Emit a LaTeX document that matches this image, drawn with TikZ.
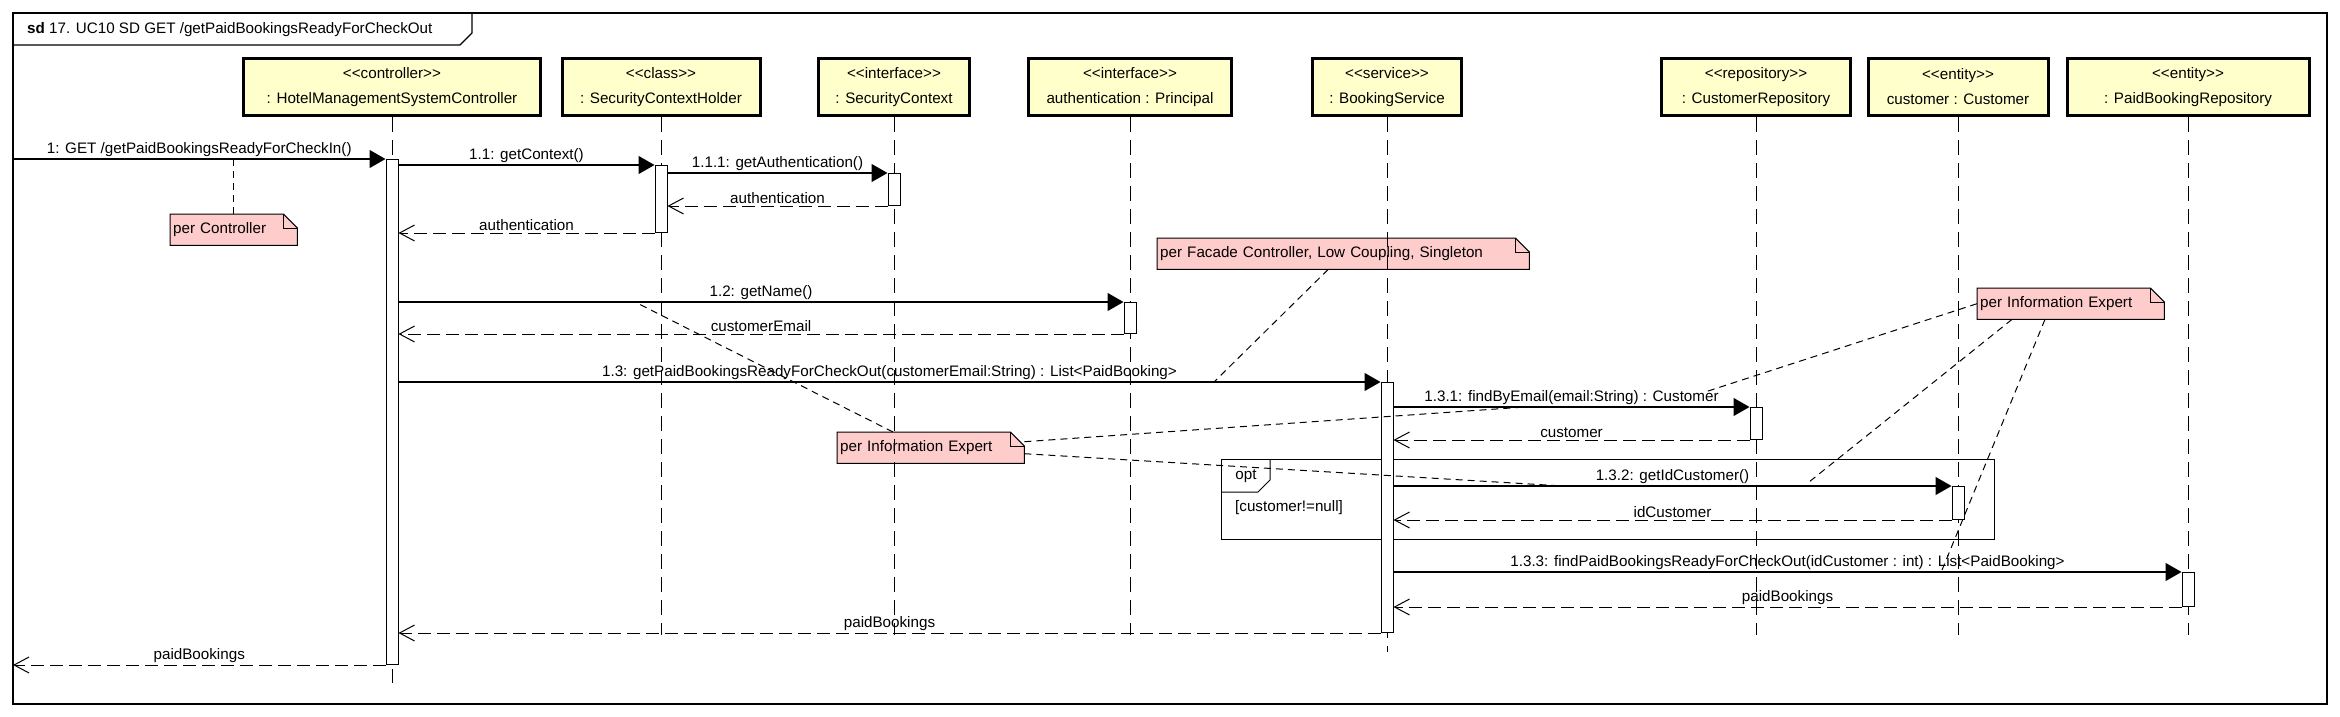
\documentclass[tikz,border=0pt]{standalone}
\usepackage{fontspec}
\setmainfont{Liberation Sans}
\usetikzlibrary{arrows.meta,backgrounds}
\definecolor{headfill}{RGB}{255,255,204}
\definecolor{notefill}{RGB}{255,204,204}
\newcommand{\stereo}[1]{<\kern0pt<#1>\kern0pt>}

\begin{document}
\begin{tikzpicture}[x=1pt,y=-1pt,
  every node/.style={font=\fontsize{15.2}{20}\selectfont},
  head/.style={draw,line width=3pt,fill=headfill,minimum height=57pt,align=center,inner sep=0pt,font=\fontsize{15.2}{25}\selectfont},
  bar/.style={draw,fill=white,anchor=north,minimum width=12pt,inner sep=0pt,line width=1pt},
  lifeline/.style={line width=1pt,dash pattern=on 15pt off 8pt},
  msg/.style={line width=1.2pt,-{Triangle[length=16pt,width=18pt]}},
  ret/.style={line width=1pt,dash pattern=on 13pt off 6pt,-{Straight Barb[length=15pt,width=16pt]}},
  lbl/.style={above,inner sep=2pt},
  note/.style={anchor=north west,minimum height=31pt,inner xsep=3pt,inner ysep=0pt,align=left},
  link/.style={line width=1pt,dash pattern=on 7pt off 5pt}]
\useasboundingbox (0,0) rectangle (2340,717);

\draw[line width=1.3pt] (13,13) rectangle (2327,704);
\draw[line width=1.3pt] (13,45) -- (460,45) -- (472,33) -- (472,13);
\node[anchor=west,inner sep=0pt] (title) at (27,30) {\textbf{sd} 17. UC10 SD GET /getPaidBookingsReadyForCheckOut};

\node[head,minimum width=297pt] (hmsc) at (392,87) {\stereo{controller}\\: HotelManagementSystemController};
\node[head,minimum width=198pt] (sch) at (661,87) {\stereo{class}\\: SecurityContextHolder};
\node[head,minimum width=151pt] (sc) at (894,87) {\stereo{interface}\\: SecurityContext};
\node[head,minimum width=203pt] (auth) at (1130,87) {\stereo{interface}\\authentication : Principal};
\node[head,minimum width=149pt] (bs) at (1387,87) {\stereo{service}\\: BookingService};
\node[head,minimum width=189pt] (crep) at (1756,87) {\stereo{repository}\\: CustomerRepository};
\node[head,minimum width=180pt] (cust) at (1958,87) {\stereo{entity}\\customer : Customer};
\node[head,minimum width=242pt] (pbrep) at (2188,87) {\stereo{entity}\\: PaidBookingRepository};

\draw[lifeline] (hmsc.south) -- (hmsc.south |- 0,683);
\draw[lifeline] (bs.south) -- (bs.south |- 0,652);
\foreach \h in {sch,sc,auth,crep,cust,pbrep}
  \draw[lifeline] (\h.south) -- (\h.south |- 0,635);

\node[note,text width=121pt] (nCtrl) at (170,214) {per Controller};
\node[note,text width=366pt] (nFacade) at (1157,238) {per Facade Controller, Low Coupling, Singleton};
\node[note,text width=181pt] (nInfoA) at (837,432) {per Information Expert};
\node[note,text width=181pt] (nInfoB) at (1977,288) {per Information Expert};
\begin{scope}[on background layer]
\foreach \n in {nCtrl,nFacade,nInfoA,nInfoB} {
  \filldraw[fill=notefill,line width=1pt] (\n.south west) -- (\n.north west) -- ([xshift=-14pt]\n.north east) -- ([yshift=-14pt]\n.north east) -- (\n.south east) -- cycle;
  \draw[line width=1pt] ([xshift=-14pt]\n.north east) |- ([yshift=-14pt]\n.north east);
}
\end{scope}

\node[draw,line width=1pt,anchor=north west,minimum width=773pt,minimum height=80pt,inner sep=0pt] (optBox) at (1221,459) {};
\draw[line width=1pt] ([yshift=-33pt]optBox.north west) -- ++(37pt,0) -- ++(12pt,12pt) -- ([xshift=49pt]optBox.north west);
\node (optTag) at (1246,476) {opt};
\node[anchor=west,inner sep=0pt] (optGuard) at (1235,508) {[customer!=null]};

\node[bar,minimum height=505pt] (aHmsc) at (hmsc.south |- 0,159) {};
\node[bar,minimum height=67pt] (aSch) at (sch.south |- 0,165) {};
\node[bar,minimum height=32pt] (aSc) at (sc.south |- 0,173) {};
\node[bar,minimum height=31pt] (aAuth) at (auth.south |- 0,302) {};
\node[bar,minimum height=250pt] (aBs) at (bs.south |- 0,382) {};
\node[bar,minimum height=32pt] (aCrep) at (crep.south |- 0,407) {};
\node[bar,minimum height=33pt] (aCust) at (cust.south |- 0,486) {};
\node[bar,minimum height=34pt] (aPbrep) at (pbrep.south |- 0,572) {};

\coordinate (gate) at (13,159);
\draw[line width=2.5pt] (gate) -- (gate |- 0,690);
\draw[msg] (gate) -- node[lbl] (l1) {1: GET /getPaidBookingsReadyForCheckIn()} (gate -| aHmsc.west);
\draw[msg] (aHmsc.east |- aSch.north) -- node[lbl] (l11) {1.1: getContext()} (aSch.north west);
\draw[msg] (aSch.east |- aSc.north) -- node[lbl] (l111) {1.1.1: getAuthentication()} (aSc.north west);
\draw[ret] (aSc.south west) -- node[lbl] (r111) {authentication} (aSc.south west -| aSch.east);
\draw[ret] (aSch.south west) -- node[lbl] (r11) {authentication} (aSch.south west -| aHmsc.east);
\draw[msg] (aHmsc.east |- aAuth.north) -- node[lbl] (l12) {1.2: getName()} (aAuth.north west);
\draw[ret] (aAuth.south west) -- node[lbl] (r12) {customerEmail} (aAuth.south west -| aHmsc.east);
\draw[msg] (aHmsc.east |- aBs.north) -- node[lbl] (l13) {1.3: getPaidBookingsReadyForCheckOut(customerEmail:String) : List<PaidBooking>} (aBs.north west);
\draw[msg] (aBs.east |- aCrep.north) -- node[lbl] (l131) {1.3.1: findByEmail(email:String) : Customer} (aCrep.north west);
\draw[ret] (aCrep.south west) -- node[lbl] (r131) {customer} (aCrep.south west -| aBs.east);
\draw[msg] (aBs.east |- aCust.north) -- node[lbl] (l132) {1.3.2: getIdCustomer()} (aCust.north west);
\draw[ret] (aCust.south west) -- node[lbl] (r132) {idCustomer} (aCust.south west -| aBs.east);
\draw[msg] (aBs.east |- aPbrep.north) -- node[lbl] (l133) {1.3.3: findPaidBookingsReadyForCheckOut(idCustomer : int) : List<PaidBooking>} (aPbrep.north west);
\draw[ret] (aPbrep.south west) -- node[lbl] (r133) {paidBookings} (aPbrep.south west -| aBs.east);
\draw[ret] (aBs.south west) -- node[lbl] (r13) {paidBookings} (aBs.south west -| aHmsc.east);
\draw[ret] (aHmsc.south west) -- node[lbl] (r1) {paidBookings} (aHmsc.south west -| gate);

\coordinate (k12) at (635,302);
\coordinate (k13) at (1214,382);
\coordinate (k131a) at (1525,407);
\coordinate (k131b) at (1705,392);
\coordinate (k132a) at (1563,486);
\coordinate (k132b) at (1809,482);
\coordinate (k133) at (1942,570);
\draw[link] (nCtrl.north) -- (nCtrl.north |- gate);
\draw[link] ([xshift=-15pt]nFacade.south) -- (k13);
\draw[link] ([xshift=56pt]nInfoA.north west) -- (k12);
\draw[link] ([yshift=6pt]nInfoA.east) -- (k131a);
\draw[link] ([yshift=-6pt]nInfoA.east) -- (k132a);
\draw[link] (nInfoB.west) -- (k131b);
\draw[link] ([xshift=35pt]nInfoB.south west) -- (k132b);
\draw[link] ([xshift=68pt]nInfoB.south west) -- (k133);
\end{tikzpicture}
\end{document}
